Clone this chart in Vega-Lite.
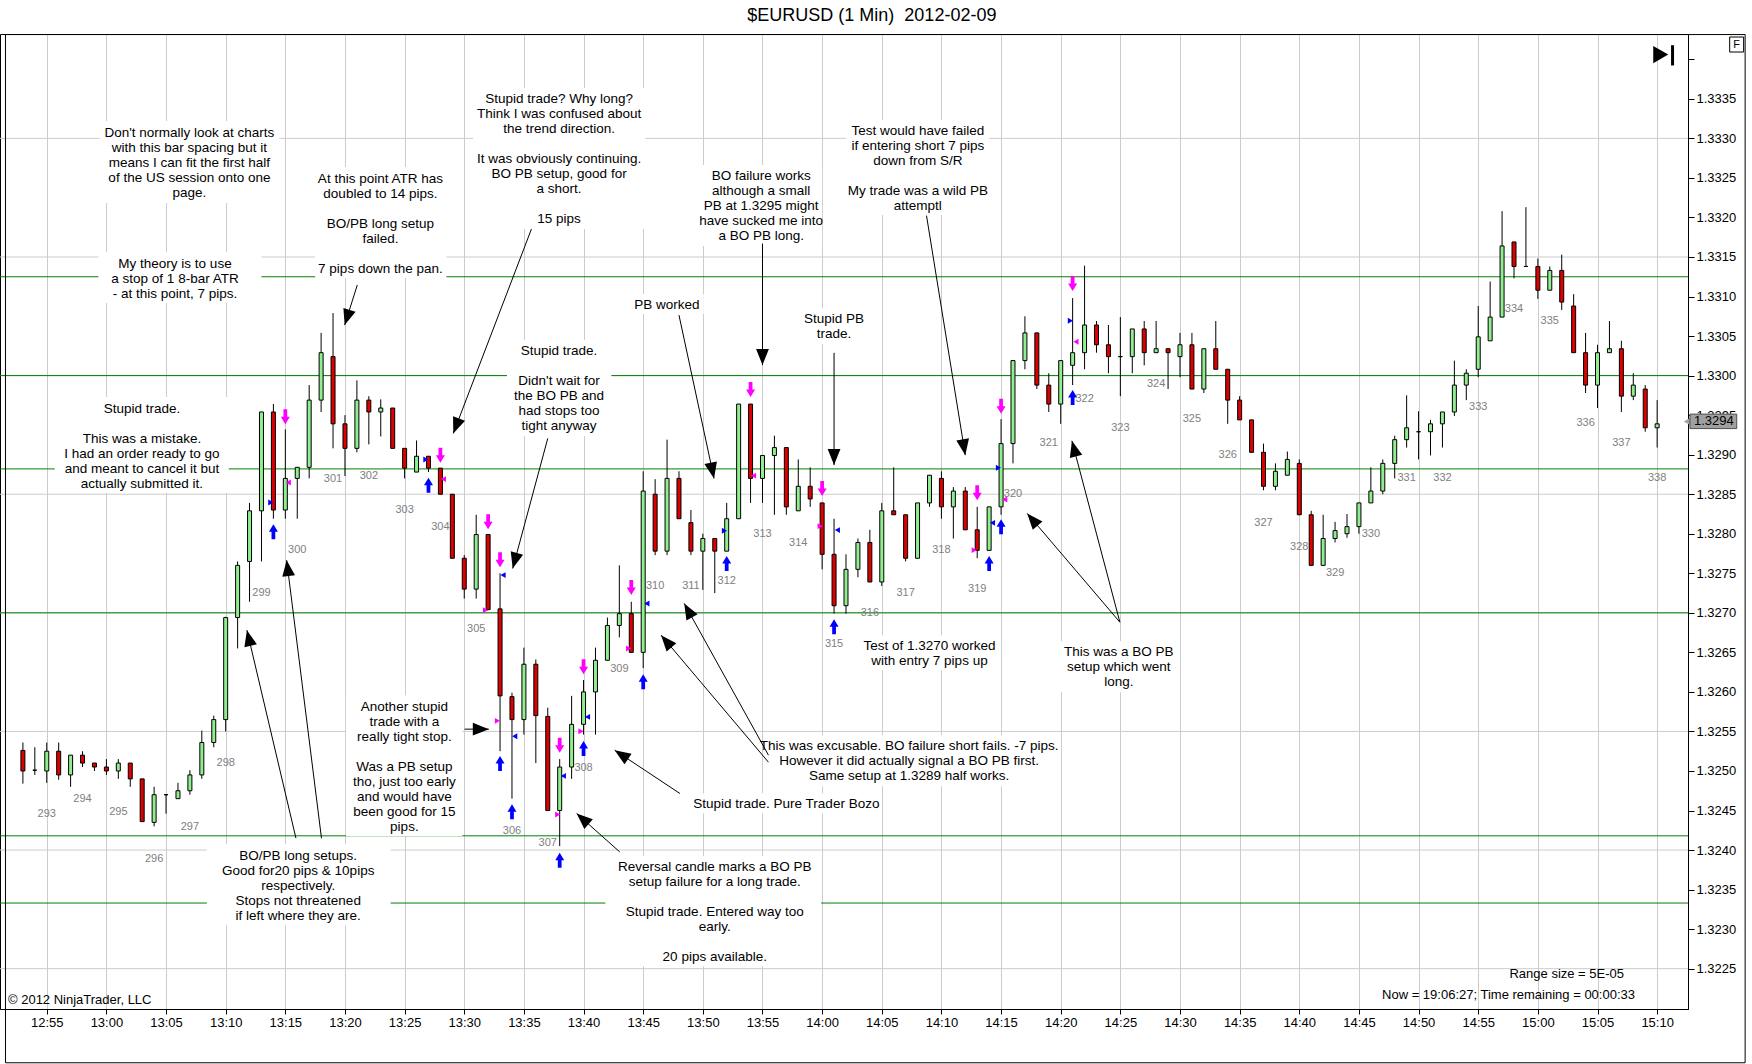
{
"$schema": "https://vega.github.io/schema/vega-lite/v6.json",
"width": 1688, "height": 975,
"autosize": {"type": "none"},
"padding": {"left": 0, "top": 34, "right": 64, "bottom": 55},
"background": "white",
"config": {"view": {"stroke": "black", "strokeWidth": 1}, "font": "Liberation Sans"},
"resolve": {"axis": {"x": "independent", "y": "independent"}},
"datasets": {
"candles": [
{"t":773,"o":1.32526,"h":1.32536,"l":1.32484,"c":1.32500},
{"t":774,"o":1.32501,"h":1.32530,"l":1.32495,"c":1.32501},
{"t":775,"o":1.32500,"h":1.32536,"l":1.32485,"c":1.32525},
{"t":776,"o":1.32525,"h":1.32536,"l":1.32489,"c":1.32495},
{"t":777,"o":1.32495,"h":1.32520,"l":1.32480,"c":1.32520},
{"t":778,"o":1.32520,"h":1.32525,"l":1.32505,"c":1.32510},
{"t":779,"o":1.32510,"h":1.32510,"l":1.32500,"c":1.32505},
{"t":780,"o":1.32505,"h":1.32515,"l":1.32495,"c":1.32500},
{"t":781,"o":1.32500,"h":1.32515,"l":1.32490,"c":1.32510},
{"t":782,"o":1.32510,"h":1.32510,"l":1.32480,"c":1.32490},
{"t":783,"o":1.32490,"h":1.32490,"l":1.32436,"c":1.32436},
{"t":784,"o":1.32435,"h":1.32480,"l":1.32430,"c":1.32470},
{"t":785,"o":1.32470,"h":1.32470,"l":1.32446,"c":1.32470},
{"t":786,"o":1.32465,"h":1.32485,"l":1.32465,"c":1.32475},
{"t":787,"o":1.32475,"h":1.32501,"l":1.32470,"c":1.32495},
{"t":788,"o":1.32495,"h":1.32551,"l":1.32490,"c":1.32536},
{"t":789,"o":1.32536,"h":1.32570,"l":1.32530,"c":1.32565},
{"t":790,"o":1.32565,"h":1.32695,"l":1.32550,"c":1.32694},
{"t":791,"o":1.32694,"h":1.32765,"l":1.32655,"c":1.32760},
{"t":792,"o":1.32765,"h":1.32839,"l":1.32714,"c":1.32829},
{"t":793,"o":1.32829,"h":1.32954,"l":1.32765,"c":1.32954},
{"t":794,"o":1.32954,"h":1.32964,"l":1.32819,"c":1.32830},
{"t":795,"o":1.32830,"h":1.32932,"l":1.32819,"c":1.32870},
{"t":796,"o":1.32870,"h":1.32884,"l":1.32819,"c":1.32884},
{"t":797,"o":1.32884,"h":1.32988,"l":1.32870,"c":1.32969},
{"t":798,"o":1.32969,"h":1.33054,"l":1.32954,"c":1.33029},
{"t":799,"o":1.33024,"h":1.33079,"l":1.32908,"c":1.32939},
{"t":800,"o":1.32939,"h":1.32950,"l":1.32873,"c":1.32908},
{"t":801,"o":1.32908,"h":1.32994,"l":1.32903,"c":1.32969},
{"t":802,"o":1.32969,"h":1.32974,"l":1.32913,"c":1.32954},
{"t":803,"o":1.32954,"h":1.32970,"l":1.32923,"c":1.32959},
{"t":804,"o":1.32959,"h":1.32959,"l":1.32908,"c":1.32908},
{"t":805,"o":1.32908,"h":1.32908,"l":1.32870,"c":1.32883},
{"t":806,"o":1.32878,"h":1.32918,"l":1.32878,"c":1.32898},
{"t":807,"o":1.32898,"h":1.32898,"l":1.32878,"c":1.32883},
{"t":808,"o":1.32883,"h":1.32883,"l":1.32850,"c":1.32850},
{"t":809,"o":1.32850,"h":1.32850,"l":1.32769,"c":1.32769},
{"t":810,"o":1.32769,"h":1.32773,"l":1.32718,"c":1.32730},
{"t":811,"o":1.32730,"h":1.32824,"l":1.32718,"c":1.32799},
{"t":812,"o":1.32799,"h":1.32799,"l":1.32704,"c":1.32704},
{"t":813,"o":1.32705,"h":1.32750,"l":1.32525,"c":1.32595},
{"t":814,"o":1.32594,"h":1.32599,"l":1.32465,"c":1.32565},
{"t":815,"o":1.32565,"h":1.32656,"l":1.32546,"c":1.32635},
{"t":816,"o":1.32635,"h":1.32641,"l":1.32510,"c":1.32570},
{"t":817,"o":1.32569,"h":1.32580,"l":1.32450,"c":1.32450},
{"t":818,"o":1.32450,"h":1.32515,"l":1.32405,"c":1.32505},
{"t":819,"o":1.32505,"h":1.32595,"l":1.32490,"c":1.32559},
{"t":820,"o":1.32559,"h":1.32615,"l":1.32546,"c":1.32600},
{"t":821,"o":1.32600,"h":1.32656,"l":1.32546,"c":1.32640},
{"t":822,"o":1.32640,"h":1.32694,"l":1.32640,"c":1.32684},
{"t":823,"o":1.32684,"h":1.32760,"l":1.32669,"c":1.32699},
{"t":824,"o":1.32699,"h":1.32714,"l":1.32650,"c":1.32650},
{"t":825,"o":1.32650,"h":1.32879,"l":1.32630,"c":1.32854},
{"t":826,"o":1.32850,"h":1.32869,"l":1.32773,"c":1.32778},
{"t":827,"o":1.32778,"h":1.32919,"l":1.32773,"c":1.32870},
{"t":828,"o":1.32870,"h":1.32879,"l":1.32819,"c":1.32819},
{"t":829,"o":1.32814,"h":1.32830,"l":1.32773,"c":1.32778},
{"t":830,"o":1.32778,"h":1.32800,"l":1.32729,"c":1.32794},
{"t":831,"o":1.32794,"h":1.32794,"l":1.32725,"c":1.32778},
{"t":832,"o":1.32778,"h":1.32839,"l":1.32778,"c":1.32819},
{"t":833,"o":1.32819,"h":1.32964,"l":1.32819,"c":1.32964},
{"t":834,"o":1.32964,"h":1.32964,"l":1.32839,"c":1.32870},
{"t":835,"o":1.32870,"h":1.32899,"l":1.32839,"c":1.32899},
{"t":836,"o":1.32899,"h":1.32924,"l":1.32824,"c":1.32909},
{"t":837,"o":1.32909,"h":1.32909,"l":1.32824,"c":1.32834},
{"t":838,"o":1.32829,"h":1.32894,"l":1.32829,"c":1.32860},
{"t":839,"o":1.32860,"h":1.32884,"l":1.32834,"c":1.32844},
{"t":840,"o":1.32839,"h":1.32839,"l":1.32755,"c":1.32774},
{"t":841,"o":1.32774,"h":1.32819,"l":1.32699,"c":1.32709},
{"t":842,"o":1.32709,"h":1.32774,"l":1.32699,"c":1.32755},
{"t":843,"o":1.32755,"h":1.32794,"l":1.32745,"c":1.32789},
{"t":844,"o":1.32789,"h":1.32805,"l":1.32739,"c":1.32739},
{"t":845,"o":1.32739,"h":1.32839,"l":1.32734,"c":1.32829},
{"t":846,"o":1.32829,"h":1.32884,"l":1.32824,"c":1.32824},
{"t":847,"o":1.32824,"h":1.32824,"l":1.32765,"c":1.32769},
{"t":848,"o":1.32769,"h":1.32839,"l":1.32769,"c":1.32839},
{"t":849,"o":1.32839,"h":1.32874,"l":1.32834,"c":1.32874},
{"t":850,"o":1.32870,"h":1.32879,"l":1.32819,"c":1.32834},
{"t":851,"o":1.32834,"h":1.32859,"l":1.32794,"c":1.32854},
{"t":852,"o":1.32854,"h":1.32859,"l":1.32805,"c":1.32805},
{"t":853,"o":1.32805,"h":1.32834,"l":1.32769,"c":1.32779},
{"t":854,"o":1.32779,"h":1.32834,"l":1.32779,"c":1.32834},
{"t":855,"o":1.32834,"h":1.32945,"l":1.32824,"c":1.32914},
{"t":856,"o":1.32914,"h":1.33019,"l":1.32889,"c":1.33019},
{"t":857,"o":1.33019,"h":1.33075,"l":1.33008,"c":1.33054},
{"t":858,"o":1.33054,"h":1.33054,"l":1.32983,"c":1.32988},
{"t":859,"o":1.32988,"h":1.33003,"l":1.32954,"c":1.32964},
{"t":860,"o":1.32964,"h":1.33019,"l":1.32939,"c":1.33019},
{"t":861,"o":1.33013,"h":1.33098,"l":1.32988,"c":1.33029},
{"t":862,"o":1.33029,"h":1.33139,"l":1.33008,"c":1.33064},
{"t":863,"o":1.33064,"h":1.33069,"l":1.33029,"c":1.33039},
{"t":864,"o":1.33039,"h":1.33064,"l":1.33003,"c":1.33024},
{"t":865,"o":1.33024,"h":1.33074,"l":1.32974,"c":1.33024},
{"t":866,"o":1.33024,"h":1.33059,"l":1.33003,"c":1.33059},
{"t":867,"o":1.33059,"h":1.33069,"l":1.33013,"c":1.33029},
{"t":868,"o":1.33029,"h":1.33069,"l":1.33029,"c":1.33034},
{"t":869,"o":1.33034,"h":1.33034,"l":1.32983,"c":1.33029},
{"t":870,"o":1.33024,"h":1.33054,"l":1.32998,"c":1.33039},
{"t":871,"o":1.33039,"h":1.33054,"l":1.32983,"c":1.32983},
{"t":872,"o":1.32983,"h":1.33034,"l":1.32978,"c":1.33034},
{"t":873,"o":1.33034,"h":1.33069,"l":1.33008,"c":1.33008},
{"t":874,"o":1.33008,"h":1.33008,"l":1.32939,"c":1.32969},
{"t":875,"o":1.32969,"h":1.32974,"l":1.32944,"c":1.32944},
{"t":876,"o":1.32944,"h":1.32944,"l":1.32903,"c":1.32903},
{"t":877,"o":1.32903,"h":1.32914,"l":1.32855,"c":1.32860},
{"t":878,"o":1.32860,"h":1.32889,"l":1.32855,"c":1.32879},
{"t":879,"o":1.32874,"h":1.32904,"l":1.32874,"c":1.32894},
{"t":880,"o":1.32889,"h":1.32894,"l":1.32824,"c":1.32824},
{"t":881,"o":1.32824,"h":1.32829,"l":1.32760,"c":1.32760},
{"t":882,"o":1.32760,"h":1.32824,"l":1.32760,"c":1.32794},
{"t":883,"o":1.32794,"h":1.32815,"l":1.32789,"c":1.32804},
{"t":884,"o":1.32800,"h":1.32825,"l":1.32795,"c":1.32809},
{"t":885,"o":1.32809,"h":1.32839,"l":1.32800,"c":1.32839},
{"t":886,"o":1.32839,"h":1.32884,"l":1.32839,"c":1.32854},
{"t":887,"o":1.32854,"h":1.32894,"l":1.32850,"c":1.32889},
{"t":888,"o":1.32889,"h":1.32924,"l":1.32870,"c":1.32919},
{"t":889,"o":1.32919,"h":1.32975,"l":1.32909,"c":1.32934},
{"t":890,"o":1.32929,"h":1.32955,"l":1.32894,"c":1.32929},
{"t":891,"o":1.32929,"h":1.32944,"l":1.32899,"c":1.32939},
{"t":892,"o":1.32939,"h":1.32954,"l":1.32909,"c":1.32954},
{"t":893,"o":1.32954,"h":1.33019,"l":1.32949,"c":1.32988},
{"t":894,"o":1.32988,"h":1.33008,"l":1.32969,"c":1.33003},
{"t":895,"o":1.33008,"h":1.33088,"l":1.32998,"c":1.33049},
{"t":896,"o":1.33044,"h":1.33119,"l":1.33044,"c":1.33074},
{"t":897,"o":1.33074,"h":1.33208,"l":1.33074,"c":1.33164},
{"t":898,"o":1.33169,"h":1.33169,"l":1.33123,"c":1.33138},
{"t":899,"o":1.33138,"h":1.33213,"l":1.33138,"c":1.33138},
{"t":900,"o":1.33138,"h":1.33148,"l":1.33097,"c":1.33108},
{"t":901,"o":1.33108,"h":1.33138,"l":1.33108,"c":1.33133},
{"t":902,"o":1.33133,"h":1.33153,"l":1.33083,"c":1.33093},
{"t":903,"o":1.33088,"h":1.33103,"l":1.33029,"c":1.33029},
{"t":904,"o":1.33029,"h":1.33054,"l":1.32978,"c":1.32988},
{"t":905,"o":1.32988,"h":1.33039,"l":1.32959,"c":1.33029},
{"t":906,"o":1.33029,"h":1.33069,"l":1.33029,"c":1.33034},
{"t":907,"o":1.33034,"h":1.33044,"l":1.32954,"c":1.32974},
{"t":908,"o":1.32974,"h":1.33003,"l":1.32969,"c":1.32988},
{"t":909,"o":1.32983,"h":1.32988,"l":1.32929,"c":1.32934},
{"t":910,"o":1.32934,"h":1.32969,"l":1.32909,"c":1.32939}
],
"grid": [{"p":1.3225},{"p":1.3240},{"p":1.3255},{"p":1.3270},{"p":1.3285},{"p":1.3300},{"p":1.3315},{"p":1.3330}],
"lines": [{"p":1.33125},{"p":1.3300},{"p":1.32882},{"p":1.3270},{"p":1.32418},{"p":1.32333}],
"boxes": [
{"t1":779.42,"t2":794.5,"p1":1.333219,"p2":1.332182},
{"t1":779.33,"t2":793.0,"p1":1.331562,"p2":1.330917},
{"t1":797.5,"t2":808.5,"p1":1.332637,"p2":1.331233},
{"t1":810.75,"t2":825.17,"p1":1.333637,"p2":1.331853},
{"t1":775.67,"t2":790.25,"p1":1.329728,"p2":1.328514},
{"t1":813.58,"t2":822.33,"p1":1.330449,"p2":1.329235},
{"t1":823.92,"t2":830.08,"p1":1.331031,"p2":1.330778},
{"t1":829.83,"t2":840.0,"p1":1.332662,"p2":1.331638},
{"t1":842.0,"t2":854.0,"p1":1.333232,"p2":1.332030},
{"t1":838.0,"t2":843.83,"p1":1.330854,"p2":1.330398},
{"t1":843.0,"t2":854.83,"p1":1.326718,"p2":1.326275},
{"t1":860.0,"t2":869.83,"p1":1.326642,"p2":1.325997},
{"t1":800.08,"t2":809.83,"p1":1.325959,"p2":1.324176},
{"t1":788.42,"t2":803.83,"p1":1.324075,"p2":1.323050},
{"t1":835.17,"t2":859.5,"p1":1.325453,"p2":1.324808},
{"t1":829.0,"t2":845.0,"p1":1.324719,"p2":1.324466},
{"t1":821.83,"t2":839.92,"p1":1.323922,"p2":1.322531}
],
"arrows": [
{"t":801.03,"p":1.331145,"t2":799.975,"p2":1.330639,"a":197.5},
{"t":815.63,"p":1.331853,"t2":809.08,"p2":1.329269,"a":201},
{"t":817.0,"p":1.329206,"t2":814.06,"p2":1.327561,"a":195.2},
{"t":828.0,"p":1.330765,"t2":830.94,"p2":1.3287,"a":167.8},
{"t":835.0,"p":1.33167,"t2":835.0,"p2":1.330133,"a":180},
{"t":841.0,"p":1.330288,"t2":841.0,"p2":1.328868,"a":180},
{"t":848.75,"p":1.332023,"t2":852.0,"p2":1.328994,"a":170.7},
{"t":864.96,"p":1.326882,"t2":857.19,"p2":1.328257,"a":-40.6},
{"t":864.96,"p":1.326882,"t2":860.94,"p2":1.329175,"a":-14.9},
{"t":810.03,"p":1.325529,"t2":812.06,"p2":1.325529,"a":90},
{"t":795.89,"p":1.32415,"t2":791.78,"p2":1.326781,"a":-13.4},
{"t":798.03,"p":1.32415,"t2":795.11,"p2":1.327666,"a":-7.2},
{"t":835.5,"p":1.3252,"t2":828.44,"p2":1.327119,"a":-29.2},
{"t":835.5,"p":1.325111,"t2":826.5,"p2":1.326718,"a":-40.4},
{"t":828.08,"p":1.324715,"t2":822.61,"p2":1.325263,"a":-56.6},
{"t":823.03,"p":1.323977,"t2":819.42,"p2":1.324462,"a":-48.4}
],
"trades": [
{"t":795,"p":1.32948,"kind":"sell"},{"t":808,"p":1.328994,"kind":"sell"},{"t":812,"p":1.328151,"kind":"sell"},{"t":813,"p":1.327671,"kind":"sell"},
{"t":818,"p":1.325326,"kind":"sell"},{"t":820,"p":1.326317,"kind":"sell"},{"t":824,"p":1.327321,"kind":"sell"},{"t":834,"p":1.329825,"kind":"sell"},
{"t":840,"p":1.328573,"kind":"sell"},{"t":853,"p":1.328518,"kind":"sell"},{"t":855,"p":1.329614,"kind":"sell"},{"t":861,"p":1.331166,"kind":"sell"},
{"t":794,"p":1.328024,"kind":"buy"},{"t":807,"p":1.328615,"kind":"buy"},{"t":813,"p":1.325095,"kind":"buy"},{"t":814,"p":1.324483,"kind":"buy"},
{"t":818,"p":1.323872,"kind":"buy"},{"t":820,"p":1.325285,"kind":"buy"},{"t":825,"p":1.326127,"kind":"buy"},{"t":832,"p":1.327625,"kind":"buy"},
{"t":841,"p":1.326823,"kind":"buy"},{"t":854,"p":1.327625,"kind":"buy"},{"t":855,"p":1.328088,"kind":"buy"},{"t":861,"p":1.329724,"kind":"buy"}
],
"fills": [
{"t":793.78,"p":1.328396,"kind":"buy","dir":"r"},{"t":795.25,"p":1.328649,"kind":"sell","dir":"l"},
{"t":806.78,"p":1.32894,"kind":"buy","dir":"r"},{"t":808.25,"p":1.328691,"kind":"sell","dir":"l"},
{"t":811.78,"p":1.327034,"kind":"sell","dir":"r"},{"t":813.25,"p":1.327477,"kind":"buy","dir":"l"},
{"t":812.78,"p":1.325634,"kind":"sell","dir":"r"},{"t":814.23,"p":1.32544,"kind":"buy","dir":"l"},
{"t":817.83,"p":1.32445,"kind":"sell","dir":"r"},{"t":818.31,"p":1.324938,"kind":"buy","dir":"l"},
{"t":819.78,"p":1.325503,"kind":"sell","dir":"r"},{"t":820.33,"p":1.325684,"kind":"buy","dir":"l"},
{"t":823.78,"p":1.326549,"kind":"sell","dir":"r"},{"t":825.31,"p":1.327119,"kind":"buy","dir":"l"},
{"t":831.81,"p":1.328037,"kind":"buy","dir":"r"},{"t":834.25,"p":1.328735,"kind":"sell","dir":"l"},
{"t":839.83,"p":1.328096,"kind":"sell","dir":"r"},{"t":841.28,"p":1.328046,"kind":"buy","dir":"l"},
{"t":852.75,"p":1.327793,"kind":"sell","dir":"r"},{"t":854.28,"p":1.328138,"kind":"buy","dir":"l"},
{"t":854.78,"p":1.328834,"kind":"buy","dir":"r"},{"t":855.31,"p":1.328434,"kind":"sell","dir":"l"},
{"t":860.81,"p":1.330693,"kind":"buy","dir":"r"},{"t":861.28,"p":1.330428,"kind":"sell","dir":"l"}
],
"barnums": [
{"t":775,"p":1.32445,"n":"293"},{"t":778,"p":1.32464,"n":"294"},{"t":781,"p":1.324483,"n":"295"},{"t":784,"p":1.323893,"n":"296"},
{"t":787,"p":1.324293,"n":"297"},{"t":790,"p":1.325095,"n":"298"},{"t":793,"p":1.327245,"n":"299"},{"t":796,"p":1.327793,"n":"300"},
{"t":799,"p":1.328691,"n":"301"},{"t":802,"p":1.328733,"n":"302"},{"t":805,"p":1.328299,"n":"303"},{"t":808,"p":1.328088,"n":"304"},
{"t":811,"p":1.32679,"n":"305"},{"t":814,"p":1.324242,"n":"306"},{"t":817,"p":1.324091,"n":"307"},{"t":820,"p":1.325044,"n":"308"},
{"t":823,"p":1.326296,"n":"309"},{"t":826,"p":1.327341,"n":"310"},{"t":829,"p":1.327341,"n":"311"},{"t":832,"p":1.327397,"n":"312"},
{"t":835,"p":1.327991,"n":"313"},{"t":838,"p":1.327885,"n":"314"},{"t":841,"p":1.3266,"n":"315"},{"t":844,"p":1.326992,"n":"316"},
{"t":847,"p":1.327245,"n":"317"},{"t":850,"p":1.327793,"n":"318"},{"t":853,"p":1.327296,"n":"319"},{"t":856,"p":1.328501,"n":"320"},
{"t":859,"p":1.329142,"n":"321"},{"t":862,"p":1.329699,"n":"322"},{"t":865,"p":1.32934,"n":"323"},{"t":868,"p":1.329889,"n":"324"},
{"t":871,"p":1.329446,"n":"325"},{"t":874,"p":1.328991,"n":"326"},{"t":877,"p":1.328138,"n":"327"},{"t":880,"p":1.327835,"n":"328"},
{"t":883,"p":1.327502,"n":"329"},{"t":886,"p":1.327995,"n":"330"},{"t":889,"p":1.3287,"n":"331"},{"t":892,"p":1.3287,"n":"332"},
{"t":895,"p":1.329598,"n":"333"},{"t":898,"p":1.330837,"n":"334"},{"t":901,"p":1.330693,"n":"335"},{"t":904,"p":1.329395,"n":"336"},
{"t":907,"p":1.329142,"n":"337"},{"t":910,"p":1.3287,"n":"338"}
],
"notes": [
{"t":786.96,"p":1.333082,"text":"Don't normally look at charts\nwith this bar spacing but it\nmeans I can fit the first half\nof the US session onto one\npage."},
{"t":785.75,"p":1.331429,"text":"My theory is to use\na stop of 1 8-bar ATR\n- at this point, 7 pips."},
{"t":802.97,"p":1.332503,"text":"At this point ATR has\ndoubled to 14 pips.\n\u200b\nBO/PB long setup\nfailed.\n\u200b\n7 pips down the pan."},
{"t":817.95,"p":1.333506,"text":"Stupid trade? Why long?\nThink I was confused about\nthe trend direction.\n\u200b\nIt was obviously continuing.\nBO PB setup, good for\na short.\n\u200b\n15 pips"},
{"t":782.98,"p":1.329593,"text":"Stupid trade.\n\u200b\nThis was a mistake.\nI had an order ready to go\nand meant to cancel it but\nactually submitted it."},
{"t":817.94,"p":1.330323,"text":"Stupid trade.\n\u200b\nDidn't wait for\nthe BO PB and\nhad stops too\ntight anyway"},
{"t":826.98,"p":1.330907,"text":"PB worked"},
{"t":834.89,"p":1.332531,"text":"BO failure works\nalthough a small\nPB at 1.3295 might\nhave sucked me into\na BO PB long."},
{"t":848.02,"p":1.33311,"text":"Test would have failed\nif entering short 7 pips\ndown from S/R\n\u200b\nMy trade was a wild PB\nattemptl"},
{"t":841.0,"p":1.330724,"text":"Stupid PB\ntrade."},
{"t":849.0,"p":1.326591,"text":"Test of 1.3270 worked\nwith entry 7 pips up"},
{"t":864.87,"p":1.326513,"text":"This was a BO PB\nsetup which went\nlong."},
{"t":804.98,"p":1.325823,"text":"Another stupid\ntrade with a\nreally tight stop.\n\u200b\nWas a PB setup\ntho, just too early\nand would have\nbeen good for 15\npips."},
{"t":796.08,"p":1.323941,"text":"BO/PB long setups.\nGood for20 pips & 10pips\nrespectively.\nStops not threatened\nif left where they are."},
{"t":847.29,"p":1.325326,"text":"This was excusable. BO failure short fails. -7 pips.\nHowever it did actually signal a BO PB first.\nSame setup at 1.3289 half works."},
{"t":837.0,"p":1.324597,"text":"Stupid trade. Pure Trader Bozo"},
{"t":831.0,"p":1.3238,"text":"Reversal candle marks a BO PB\nsetup failure for a long trade.\n\u200b\nStupid trade. Entered way too\nearly.\n\u200b\n20 pips available."}
]
},
"layer": [
{"data": {"name": "grid"}, "mark": {"type": "rule", "color": "#cccccc", "strokeWidth": 1},
 "encoding": {"y": {"field": "p", "type": "quantitative", "scale": {"domain": [1.32199, 1.33432], "nice": false, "zero": false}, "axis": null}}},
{"data": {"name": "lines"}, "mark": {"type": "rule", "color": "#008000", "strokeWidth": 1},
 "encoding": {"y": {"field": "p", "type": "quantitative", "scale": {"domain": [1.32199, 1.33432], "nice": false, "zero": false}, "axis": null}}},
{"data": {"name": "boxes"}, "mark": {"type": "rect", "fill": "white", "strokeWidth": 0},
 "encoding": {
  "x": {"field": "t1", "type": "quantitative", "scale": {"domain": [771.5, 912.1667], "nice": false, "zero": false}, "axis": null},
  "x2": {"field": "t2"},
  "y": {"field": "p1", "type": "quantitative", "scale": {"domain": [1.32199, 1.33432], "nice": false, "zero": false}, "axis": null},
  "y2": {"field": "p2"}}},
{"data": {"name": "candles"}, "mark": {"type": "rule", "color": "black", "strokeWidth": 1},
 "encoding": {
  "x": {"field": "t", "type": "quantitative", "scale": {"domain": [771.5, 912.1667], "nice": false, "zero": false}, "axis": null},
  "y": {"field": "l", "type": "quantitative", "scale": {"domain": [1.32199, 1.33432], "nice": false, "zero": false}, "axis": null},
  "y2": {"field": "h"}}},
{"data": {"name": "candles"}, "mark": {"type": "bar", "width": 4, "stroke": "black", "strokeWidth": 1},
 "encoding": {
  "x": {"field": "t", "type": "quantitative", "scale": {"domain": [771.5, 912.1667], "nice": false, "zero": false},
        "axis": {"title": null, "orient": "bottom", "values": [775,780,785,790,795,800,805,810,815,820,825,830,835,840,845,850,855,860,865,870,875,880,885,890,895,900,905,910],
                 "labelExpr": "floor(datum.value/60) + ':' + (datum.value % 60 < 10 ? '0' : '') + (datum.value % 60)",
                 "grid": true, "gridColor": "#cccccc", "gridWidth": 1, "domainColor": "black", "tickColor": "black", "tickSize": 5,
                 "labelFontSize": 13, "labelColor": "black", "labelFont": "Liberation Sans", "labelPadding": 2, "labelFlush": false, "labelOverlap": false}},
  "y": {"field": "o", "type": "quantitative", "scale": {"domain": [1.32199, 1.33432], "nice": false, "zero": false},
        "axis": {"title": null, "orient": "right", "zindex": 0, "values": [1.3225,1.323,1.3235,1.324,1.3245,1.325,1.3255,1.326,1.3265,1.327,1.3275,1.328,1.3285,1.329,1.3295,1.33,1.3305,1.331,1.3315,1.332,1.3325,1.333,1.3335,1.334],
                 "labelExpr": "datum.value > 1.33375 ? '' : format(datum.value, '.4f')",
                 "grid": false, "domainColor": "black", "tickColor": "black", "tickSize": 6,
                 "labelFontSize": 13, "labelColor": "black", "labelFont": "Liberation Sans", "labelPadding": 2, "labelFlush": false, "labelOverlap": false}},
  "y2": {"field": "c"},
  "color": {"condition": {"test": "datum.c >= datum.o", "value": "#90ee90"}, "value": "#dd0000"}}},
{"data": {"name": "arrows"}, "mark": {"type": "rule", "color": "black", "strokeWidth": 1},
 "encoding": {
  "x": {"field": "t", "type": "quantitative", "scale": {"domain": [771.5, 912.1667], "nice": false, "zero": false}, "axis": null},
  "x2": {"field": "t2"},
  "y": {"field": "p", "type": "quantitative", "scale": {"domain": [1.32199, 1.33432], "nice": false, "zero": false}, "axis": null},
  "y2": {"field": "p2"}}},
{"data": {"name": "arrows"}, "mark": {"type": "point", "shape": "M0,0L-0.4,1L0.4,1Z", "size": 1024, "filled": true, "color": "black", "opacity": 1, "strokeWidth": 0},
 "encoding": {
  "x": {"field": "t2", "type": "quantitative", "scale": {"domain": [771.5, 912.1667], "nice": false, "zero": false}, "axis": null},
  "y": {"field": "p2", "type": "quantitative", "scale": {"domain": [1.32199, 1.33432], "nice": false, "zero": false}, "axis": null},
  "angle": {"field": "a", "type": "quantitative", "scale": null}}},
{"data": {"name": "trades"}, "transform": [{"filter": "datum.kind === 'sell'"}],
 "mark": {"type": "point", "shape": "M-0.25,-1L0.25,-1L0.25,0L0.6,0L0,1L-0.6,0L-0.25,0Z", "size": 225, "filled": true, "color": "#ff00ff", "opacity": 1, "strokeWidth": 0},
 "encoding": {
  "x": {"field": "t", "type": "quantitative", "scale": {"domain": [771.5, 912.1667], "nice": false, "zero": false}, "axis": null},
  "y": {"field": "p", "type": "quantitative", "scale": {"domain": [1.32199, 1.33432], "nice": false, "zero": false}, "axis": null}}},
{"data": {"name": "trades"}, "transform": [{"filter": "datum.kind === 'buy'"}],
 "mark": {"type": "point", "shape": "M-0.25,1L0.25,1L0.25,0L0.6,0L0,-1L-0.6,0L-0.25,0Z", "size": 225, "filled": true, "color": "#0000ff", "opacity": 1, "strokeWidth": 0},
 "encoding": {
  "x": {"field": "t", "type": "quantitative", "scale": {"domain": [771.5, 912.1667], "nice": false, "zero": false}, "axis": null},
  "y": {"field": "p", "type": "quantitative", "scale": {"domain": [1.32199, 1.33432], "nice": false, "zero": false}, "axis": null}}},
{"data": {"name": "fills"}, "mark": {"type": "point", "size": 35, "filled": true, "opacity": 1, "strokeWidth": 0},
 "encoding": {
  "x": {"field": "t", "type": "quantitative", "scale": {"domain": [771.5, 912.1667], "nice": false, "zero": false}, "axis": null},
  "y": {"field": "p", "type": "quantitative", "scale": {"domain": [1.32199, 1.33432], "nice": false, "zero": false}, "axis": null},
  "shape": {"field": "dir", "type": "nominal", "scale": {"domain": ["r", "l"], "range": ["triangle-right", "triangle-left"]}, "legend": null},
  "color": {"field": "kind", "type": "nominal", "scale": {"domain": ["sell", "buy"], "range": ["#ff00ff", "#0000ff"]}, "legend": null}}},
{"data": {"name": "barnums"}, "mark": {"type": "text", "fontSize": 11, "color": "#808080", "align": "center", "baseline": "middle"},
 "encoding": {
  "x": {"field": "t", "type": "quantitative", "scale": {"domain": [771.5, 912.1667], "nice": false, "zero": false}, "axis": null},
  "y": {"field": "p", "type": "quantitative", "scale": {"domain": [1.32199, 1.33432], "nice": false, "zero": false}, "axis": null},
  "text": {"field": "n", "type": "nominal"}}},
{"data": {"name": "notes"}, "mark": {"type": "text", "fontSize": 13.5, "lineHeight": 15, "lineBreak": "\n", "color": "black", "align": "center", "baseline": "top", "dy": -6},
 "encoding": {
  "x": {"field": "t", "type": "quantitative", "scale": {"domain": [771.5, 912.1667], "nice": false, "zero": false}, "axis": null},
  "y": {"field": "p", "type": "quantitative", "scale": {"domain": [1.32199, 1.33432], "nice": false, "zero": false}, "axis": null},
  "text": {"field": "text", "type": "nominal"}}},
{"data": {"values": [{"t": 844.17, "p": 1.334547, "text": "$EURUSD (1 Min)\u00a0 2012-02-09"}]},
 "mark": {"type": "text", "fontSize": 18, "color": "black", "align": "center", "baseline": "middle"},
 "encoding": {
  "x": {"field": "t", "type": "quantitative", "scale": {"domain": [771.5, 912.1667], "nice": false, "zero": false}, "axis": null},
  "y": {"field": "p", "type": "quantitative", "scale": {"domain": [1.32199, 1.33432], "nice": false, "zero": false}, "axis": null},
  "text": {"field": "text", "type": "nominal"}}},
{"data": {"values": [{"t": 771.75, "p": 1.322101, "text": "© 2012 NinjaTrader, LLC"}]},
 "mark": {"type": "text", "fontSize": 13, "color": "black", "align": "left", "baseline": "middle"},
 "encoding": {
  "x": {"field": "t", "type": "quantitative", "scale": {"domain": [771.5, 912.1667], "nice": false, "zero": false}, "axis": null},
  "y": {"field": "p", "type": "quantitative", "scale": {"domain": [1.32199, 1.33432], "nice": false, "zero": false}, "axis": null},
  "text": {"field": "text", "type": "nominal"}}},
{"data": {"values": [{"t": 902.42, "p": 1.32243, "text": "Range size = 5E-05"}, {"t": 897.54, "p": 1.322173, "text": "Now = 19:06:27; Time remaining = 00:00:33"}]},
 "mark": {"type": "text", "fontSize": 13, "color": "black", "align": "center", "baseline": "middle"},
 "encoding": {
  "x": {"field": "t", "type": "quantitative", "scale": {"domain": [771.5, 912.1667], "nice": false, "zero": false}, "axis": null},
  "y": {"field": "p", "type": "quantitative", "scale": {"domain": [1.32199, 1.33432], "nice": false, "zero": false}, "axis": null},
  "text": {"field": "text", "type": "nominal"}}},
{"data": {"values": [{"t": 912.62, "p": 1.329421}]},
 "mark": {"type": "point", "shape": "triangle-left", "size": 110, "filled": true, "color": "#a0a0a0", "opacity": 1, "strokeWidth": 0},
 "encoding": {
  "x": {"field": "t", "type": "quantitative", "scale": {"domain": [771.5, 912.1667], "nice": false, "zero": false}, "axis": null},
  "y": {"field": "p", "type": "quantitative", "scale": {"domain": [1.32199, 1.33432], "nice": false, "zero": false}, "axis": null}}},
{"data": {"values": [{"t1": 912.75, "t2": 916.67, "p1": 1.329513, "p2": 1.32933}]},
 "mark": {"type": "rect", "fill": "#a0a0a0", "stroke": "#505050", "strokeWidth": 1},
 "encoding": {
  "x": {"field": "t1", "type": "quantitative", "scale": {"domain": [771.5, 912.1667], "nice": false, "zero": false}, "axis": null},
  "x2": {"field": "t2"},
  "y": {"field": "p1", "type": "quantitative", "scale": {"domain": [1.32199, 1.33432], "nice": false, "zero": false}, "axis": null},
  "y2": {"field": "p2"}}},
{"data": {"values": [{"t": 914.75, "p": 1.329421, "text": "1.3294"}]},
 "mark": {"type": "text", "fontSize": 13, "color": "black", "align": "center", "baseline": "middle"},
 "encoding": {
  "x": {"field": "t", "type": "quantitative", "scale": {"domain": [771.5, 912.1667], "nice": false, "zero": false}, "axis": null},
  "y": {"field": "p", "type": "quantitative", "scale": {"domain": [1.32199, 1.33432], "nice": false, "zero": false}, "axis": null},
  "text": {"field": "text", "type": "nominal"}}},
{"data": {"values": [{"t1": 916.08, "t2": 917.25, "p1": 1.334282, "p2": 1.334092}]},
 "mark": {"type": "rect", "fill": "white", "stroke": "black", "strokeWidth": 1},
 "encoding": {
  "x": {"field": "t1", "type": "quantitative", "scale": {"domain": [771.5, 912.1667], "nice": false, "zero": false}, "axis": null},
  "x2": {"field": "t2"},
  "y": {"field": "p1", "type": "quantitative", "scale": {"domain": [1.32199, 1.33432], "nice": false, "zero": false}, "axis": null},
  "y2": {"field": "p2"}}},
{"data": {"values": [{"t": 916.67, "p": 1.334187, "text": "F"}]},
 "mark": {"type": "text", "fontSize": 11, "color": "black", "align": "center", "baseline": "middle"},
 "encoding": {
  "x": {"field": "t", "type": "quantitative", "scale": {"domain": [771.5, 912.1667], "nice": false, "zero": false}, "axis": null},
  "y": {"field": "p", "type": "quantitative", "scale": {"domain": [1.32199, 1.33432], "nice": false, "zero": false}, "axis": null},
  "text": {"field": "text", "type": "nominal"}}},
{"data": {"values": [{"t": 910.3, "p": 1.33406}]},
 "mark": {"type": "point", "shape": "triangle-right", "size": 300, "filled": true, "color": "black", "opacity": 1, "strokeWidth": 0},
 "encoding": {
  "x": {"field": "t", "type": "quantitative", "scale": {"domain": [771.5, 912.1667], "nice": false, "zero": false}, "axis": null},
  "y": {"field": "p", "type": "quantitative", "scale": {"domain": [1.32199, 1.33432], "nice": false, "zero": false}, "axis": null}}},
{"data": {"values": [{"t": 911.29, "p": 1.333922, "p2": 1.334178}]},
 "mark": {"type": "rule", "color": "black", "strokeWidth": 3},
 "encoding": {
  "x": {"field": "t", "type": "quantitative", "scale": {"domain": [771.5, 912.1667], "nice": false, "zero": false}, "axis": null},
  "y": {"field": "p", "type": "quantitative", "scale": {"domain": [1.32199, 1.33432], "nice": false, "zero": false}, "axis": null},
  "y2": {"field": "p2"}}},
{"data": {"values": [{"t1": 771.54, "t2": 917.375, "p1": 1.334313, "p2": 1.32131}]},
 "mark": {"type": "rect", "fillOpacity": 0, "fill": "white", "stroke": "black", "strokeWidth": 1},
 "encoding": {
  "x": {"field": "t1", "type": "quantitative", "scale": {"domain": [771.5, 912.1667], "nice": false, "zero": false}, "axis": null},
  "x2": {"field": "t2"},
  "y": {"field": "p1", "type": "quantitative", "scale": {"domain": [1.32199, 1.33432], "nice": false, "zero": false}, "axis": null},
  "y2": {"field": "p2"}}}
]
}
